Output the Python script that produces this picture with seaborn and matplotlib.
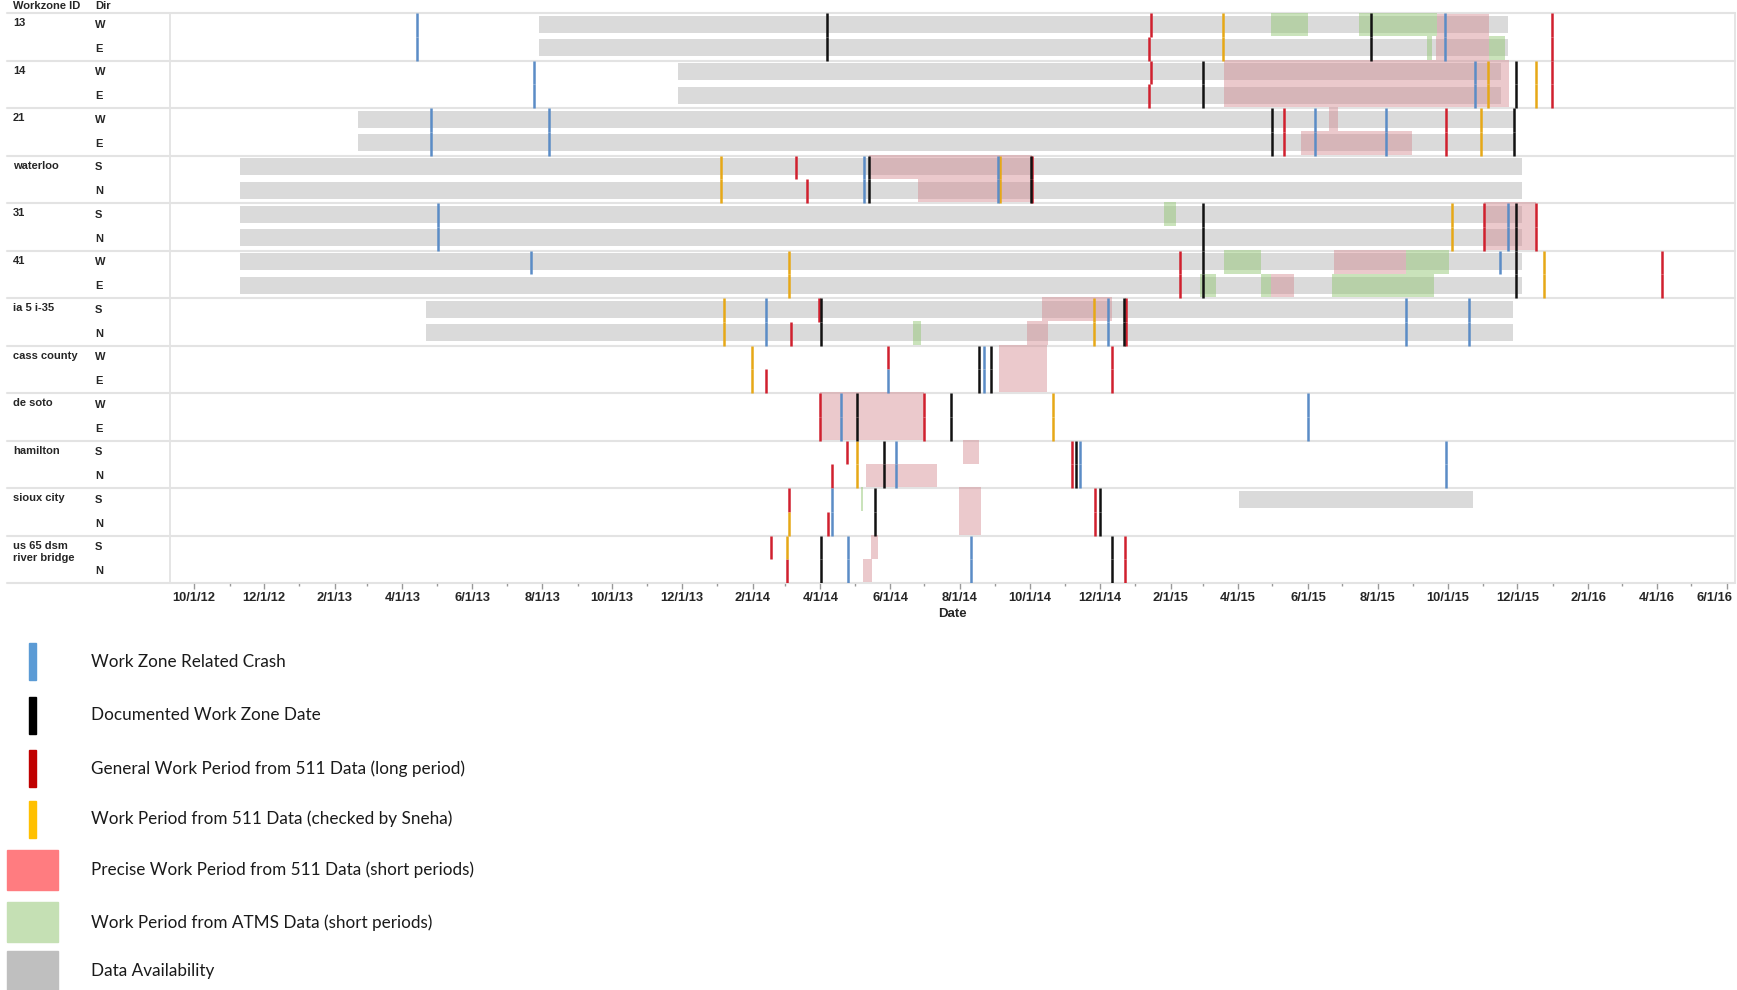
import pandas as pd
import seaborn as sns
import matplotlib.pyplot as plt
import matplotlib.dates as mdates
import matplotlib.transforms as mtransforms
from matplotlib.patches import Rectangle

# work zones, top to bottom, with their two directions
GROUPS = ["13", "14", "21", "waterloo", "31", "41", "ia 5 i-35", "cass county",
          "de soto", "hamilton", "sioux city", "us 65 dsm river bridge"]
DIRS = ["WE", "WE", "WE", "SN", "SN", "WE", "SN", "WE", "WE", "SN", "SN", "SN"]

# (zone, directions, start, end)
AVAILABILITY = [
    ("13", "WE", "2013-07-29", "2015-11-23"),
    ("14", "WE", "2013-11-28", "2015-11-17"),
    ("21", "WE", "2013-02-21", "2015-11-28"),
    ("waterloo", "SN", "2012-11-10", "2015-12-05"),
    ("31", "SN", "2012-11-10", "2015-12-05"),
    ("41", "WE", "2012-11-10", "2015-12-05"),
    ("ia 5 i-35", "SN", "2013-04-22", "2015-11-27"),
    ("sioux city", "S", "2015-04-02", "2015-10-23"),
]

PRECISE_511 = [
    ("13", "W", "2015-09-22", "2015-11-06"),
    ("13", "E", "2015-09-21", "2015-11-06"),
    ("14", "WE", "2015-03-20", "2015-11-24"),
    ("21", "W", "2015-06-19", "2015-06-27"),
    ("21", "E", "2015-05-26", "2015-08-31"),
    ("waterloo", "S", "2014-05-14", "2014-10-03"),
    ("waterloo", "N", "2014-06-25", "2014-10-03"),
    ("31", "SN", "2015-11-02", "2015-12-17"),
    ("41", "W", "2015-06-24", "2015-08-26"),
    ("41", "E", "2015-04-30", "2015-05-20"),
    ("ia 5 i-35", "S", "2014-10-12", "2014-12-12"),
    ("ia 5 i-35", "N", "2014-09-29", "2014-10-17"),
    ("cass county", "WE", "2014-09-04", "2014-10-16"),
    ("de soto", "WE", "2014-04-01", "2014-07-01"),
    ("hamilton", "S", "2014-08-04", "2014-08-18"),
    ("hamilton", "N", "2014-05-11", "2014-07-12"),
    ("sioux city", "SN", "2014-07-31", "2014-08-19"),
    ("us 65 dsm river bridge", "S", "2014-05-15", "2014-05-21"),
    ("us 65 dsm river bridge", "N", "2014-05-08", "2014-05-16"),
]

ATMS = [
    ("13", "W", "2015-04-30", "2015-06-01"),
    ("13", "W", "2015-07-16", "2015-09-22"),
    ("13", "E", "2015-09-13", "2015-09-17"),
    ("13", "E", "2015-11-06", "2015-11-20"),
    ("31", "S", "2015-01-26", "2015-02-06"),
    ("41", "W", "2015-03-20", "2015-04-21"),
    ("41", "W", "2015-08-26", "2015-10-02"),
    ("41", "E", "2015-02-27", "2015-03-13"),
    ("41", "E", "2015-04-21", "2015-04-30"),
    ("41", "E", "2015-06-22", "2015-09-19"),
    ("ia 5 i-35", "N", "2014-06-21", "2014-06-28"),
    ("sioux city", "S", "2014-05-07", "2014-05-08"),
]

# (zone, directions, date)
CRASHES = [
    ("13", "WE", "2013-04-14"), ("13", "WE", "2015-09-29"),
    ("14", "WE", "2013-07-25"), ("14", "WE", "2015-10-25"),
    ("21", "WE", "2013-04-26"), ("21", "WE", "2013-08-07"),
    ("21", "WE", "2015-06-07"), ("21", "WE", "2015-08-08"),
    ("waterloo", "SN", "2014-05-09"), ("waterloo", "SN", "2014-09-03"),
    ("31", "SN", "2013-05-02"), ("31", "SN", "2015-11-23"),
    ("41", "W", "2013-07-22"), ("41", "W", "2015-11-16"),
    ("ia 5 i-35", "SN", "2014-02-13"), ("ia 5 i-35", "SN", "2014-12-08"),
    ("ia 5 i-35", "SN", "2015-08-26"), ("ia 5 i-35", "SN", "2015-10-20"),
    ("cass county", "E", "2014-05-30"), ("cass county", "WE", "2014-08-22"),
    ("de soto", "WE", "2014-04-19"), ("de soto", "WE", "2015-06-01"),
    ("hamilton", "SN", "2014-06-06"), ("hamilton", "SN", "2014-11-14"),
    ("hamilton", "SN", "2015-09-30"),
    ("sioux city", "SN", "2014-04-11"),
    ("us 65 dsm river bridge", "SN", "2014-04-25"),
    ("us 65 dsm river bridge", "SN", "2014-08-11"),
]

DOCUMENTED = [
    ("13", "WE", "2014-04-07"), ("13", "WE", "2015-07-26"),
    ("14", "WE", "2015-03-01"), ("14", "WE", "2015-11-30"),
    ("21", "WE", "2015-05-01"), ("21", "WE", "2015-11-28"),
    ("waterloo", "SN", "2014-05-14"), ("waterloo", "SN", "2014-10-02"),
    ("31", "SN", "2015-03-01"), ("31", "SN", "2015-11-30"),
    ("41", "WE", "2015-03-01"), ("41", "WE", "2015-11-30"),
    ("ia 5 i-35", "SN", "2014-04-02"), ("ia 5 i-35", "SN", "2014-12-22"),
    ("cass county", "WE", "2014-08-18"), ("cass county", "WE", "2014-08-28"),
    ("de soto", "WE", "2014-05-03"), ("de soto", "WE", "2014-07-24"),
    ("hamilton", "SN", "2014-05-27"), ("hamilton", "SN", "2014-11-10"),
    ("sioux city", "SN", "2014-05-19"), ("sioux city", "SN", "2014-12-01"),
    ("us 65 dsm river bridge", "SN", "2014-04-02"),
    ("us 65 dsm river bridge", "SN", "2014-12-12"),
]

GENERAL_511 = [
    ("13", "W", "2015-01-15"), ("13", "E", "2015-01-13"), ("13", "WE", "2015-12-31"),
    ("14", "W", "2015-01-15"), ("14", "E", "2015-01-13"), ("14", "WE", "2015-12-31"),
    ("21", "WE", "2015-05-11"), ("21", "WE", "2015-09-30"),
    ("waterloo", "S", "2014-03-11"), ("waterloo", "N", "2014-03-20"),
    ("waterloo", "SN", "2014-10-03"),
    ("31", "SN", "2015-11-02"), ("31", "SN", "2015-12-17"),
    ("41", "WE", "2015-02-09"), ("41", "WE", "2016-04-05"),
    ("ia 5 i-35", "S", "2014-03-31"), ("ia 5 i-35", "N", "2014-03-06"),
    ("ia 5 i-35", "SN", "2014-12-24"),
    ("cass county", "E", "2014-02-13"), ("cass county", "W", "2014-05-30"),
    ("cass county", "WE", "2014-12-12"),
    ("de soto", "WE", "2014-04-01"), ("de soto", "WE", "2014-07-01"),
    ("hamilton", "S", "2014-04-24"), ("hamilton", "N", "2014-04-11"),
    ("hamilton", "SN", "2014-11-07"),
    ("sioux city", "S", "2014-03-05"), ("sioux city", "N", "2014-04-08"),
    ("sioux city", "SN", "2014-11-27"),
    ("us 65 dsm river bridge", "S", "2014-02-17"),
    ("us 65 dsm river bridge", "N", "2014-03-03"),
    ("us 65 dsm river bridge", "SN", "2014-12-23"),
]

CHECKED_511 = [
    ("13", "WE", "2015-03-19"),
    ("14", "WE", "2015-11-05"), ("14", "WE", "2015-12-17"),
    ("21", "WE", "2015-10-30"),
    ("waterloo", "SN", "2014-01-04"), ("waterloo", "SN", "2014-09-05"),
    ("31", "SN", "2015-10-05"),
    ("41", "WE", "2014-03-05"), ("41", "WE", "2015-12-24"),
    ("ia 5 i-35", "SN", "2014-01-07"), ("ia 5 i-35", "SN", "2014-11-26"),
    ("cass county", "WE", "2014-01-31"),
    ("de soto", "WE", "2014-10-21"),
    ("hamilton", "SN", "2014-05-03"),
    ("sioux city", "N", "2014-03-05"),
    ("us 65 dsm river bridge", "S", "2014-03-03"),
]

LEGEND_LINES = ["Work Zone Related Crash", "Documented Work Zone Date",
                "General Work Period from 511 Data (long period)",
                "Work Period from 511 Data (checked by Sneha)"]
LEGEND_BOXES = ["Precise Work Period from 511 Data (short periods)",
                "Work Period from ATMS Data (short periods)", "Data Availability"]

LAST_TICK = "2016-06-01"

sns.set_theme(style="white")
plt.rcParams["font.family"] = ["Liberation Sans", "DejaVu Sans"]

W, H = 1737, 990
fig = plt.figure(figsize=(W / 100, H / 100), dpi=100)
ax = fig.add_axes([170 / W, 1 - 583 / H, (1735 - 170) / W, 570 / H])


def rows_of(zone, dirs):
    g = GROUPS.index(zone)
    return [2 * g + DIRS[g].index(d) for d in dirs]


def num(d):
    return mdates.date2num(pd.Timestamp(d))


def spans(data, height, color, alpha, z):
    for zone, dirs, s, e in data:
        for r in rows_of(zone, dirs):
            ax.barh(r + 0.47, num(e) - num(s), left=num(s), height=height,
                    color=color, alpha=alpha, lw=0, zorder=z)


def events(data, color):
    for zone, dirs, d in data:
        for r in rows_of(zone, dirs):
            ax.vlines(num(d), r, r + 1, color=color, lw=1.8, zorder=5)


spans(AVAILABILITY, 0.72, "#dadada", 1, 1)
spans(PRECISE_511, 1.0, "#d3898f", 0.45, 2)
spans(ATMS, 1.0, "#96c878", 0.5, 3)
events(GENERAL_511, "#d0202e")
events(CHECKED_511, "#e6a817")
events(CRASHES, "#5b8cc6")
events(DOCUMENTED, "#111111")

ax.set_ylim(len(GROUPS) * 2, 0)
ax.set_xlim(num("2012-09-10"), num("2016-06-08"))
ax.set_yticks([])


def date_label(v, pos):
    d = mdates.num2date(v)
    if d.strftime("%Y-%m-%d") == LAST_TICK:
        return ""
    return f"{d.month}/{d.day}/{d:%y}"


ax.xaxis.set_major_locator(mdates.MonthLocator(bymonth=[2, 4, 6, 8, 10, 12]))
ax.xaxis.set_minor_locator(mdates.MonthLocator(bymonth=[1, 3, 5, 7, 9, 11]))
ax.xaxis.set_major_formatter(plt.FuncFormatter(date_label))
ax.tick_params(axis="x", which="major", bottom=True, length=4, width=1,
               color="#999999", labelsize=9.3, pad=2.5)
ax.tick_params(axis="x", which="minor", bottom=True, length=2, width=1, color="#999999")
for t in ax.get_xticklabels():
    t.set_fontweight("bold")
# the last label is pulled in so it stays inside the picture
d_last = pd.Timestamp(LAST_TICK)
ax.annotate(f"{d_last.month}/{d_last.day}/{d_last:%y}", xy=(num(LAST_TICK), 0),
            xycoords=("data", "axes fraction"), xytext=(4, -6.2),
            textcoords="offset points", ha="right", va="top",
            fontsize=9.3, fontweight="bold", color="#262626")
ax.set_xlabel("Date", fontsize=9.5, fontweight="bold", labelpad=3)

for side in ["left", "right", "top", "bottom"]:
    ax.spines[side].set_color("#e3e3e3")
    ax.spines[side].set_linewidth(1.3)

# row separators and labels in the left panel
trans = mtransforms.blended_transform_factory(fig.transFigure, ax.transData)
for g in range(len(GROUPS) + 1):
    ax.plot([7 / W, 1735 / W], [2 * g, 2 * g], transform=trans, color="#e3e3e3",
            lw=1.5, clip_on=False, zorder=0)
for g, zone in enumerate(GROUPS):
    ax.text(13 / W, 2 * g + 0.22, zone.replace("dsm ", "dsm\n"), transform=trans,
            fontsize=8, fontweight="bold", va="top", ha="left", linespacing=1.25)
    for k, d in enumerate(DIRS[g]):
        ax.text(95 / W, 2 * g + k + 0.5, d, transform=trans, fontsize=8,
                fontweight="bold", va="center", ha="left")
fig.text(13 / W, 1 - 6 / H, "Workzone ID", fontsize=8, fontweight="bold", va="center")
fig.text(95 / W, 1 - 6 / H, "Dir", fontsize=8, fontweight="bold", va="center")

# legend drawn in pixel space under the chart
lax = fig.add_axes([0, 0, 1, 1], zorder=-1)
lax.set_xlim(0, W)
lax.set_ylim(H, 0)
lax.axis("off")
line_colors = ["#5b9bd5", "#000000", "#c00000", "#ffc000"]
line_y = [661.7, 715, 768.3, 819]
for lab, c, y in zip(LEGEND_LINES, line_colors, line_y):
    lax.add_patch(Rectangle((29.3, y - 18.5), 6.7, 37, color=c))
    lax.text(90.7, y, lab, fontsize=12.3, family=["Lato", "DejaVu Sans"],
             va="center", ha="left", color="#1a1a1a")
box_colors = ["#ff7c80", "#c5e0b4", "#bfbfbf"]
box_y = [870, 922.3, 970.7]
for lab, c, y in zip(LEGEND_BOXES, box_colors, box_y):
    lax.add_patch(Rectangle((7, y - 20), 51, 40, color=c))
    lax.text(90.7, y, lab, fontsize=12.3, family=["Lato", "DejaVu Sans"],
             va="center", ha="left", color="#1a1a1a")

fig.savefig("out.png", dpi=100, facecolor="white")
